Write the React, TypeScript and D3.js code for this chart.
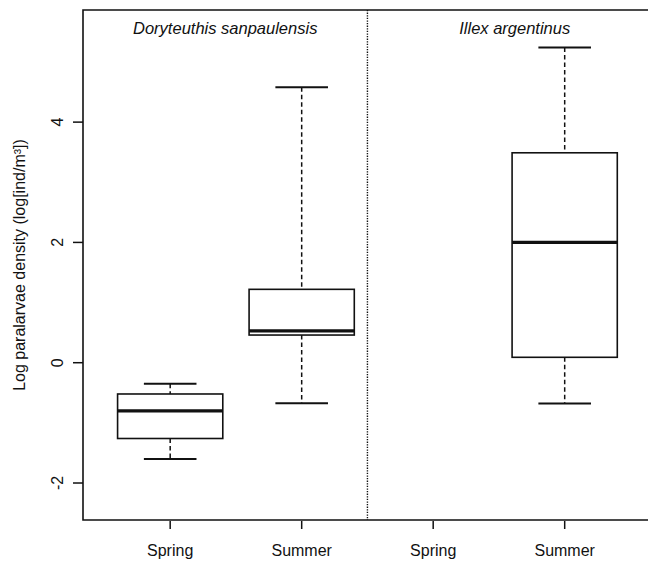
import React from "react";
import * as d3 from "d3";

// ---- data ----
const panels = ["Doryteuthis sanpaulensis", "Illex argentinus"];
const categories = ["Spring", "Summer", "Spring", "Summer"];
const whiskerLow = [-1.6, -0.675, NaN, -0.68];
const q1 = [-1.26, 0.46, NaN, 0.09];
const medians = [-0.8, 0.53, NaN, 2.0];
const q3 = [-0.52, 1.22, NaN, 3.49];
const whiskerHigh = [-0.35, 4.58, NaN, 5.24];
const yTicks = [-2, 0, 2, 4];
const yLabel = "Log paralarvae density (log[ind/m³])";

const W = 648;
const H = 562;
const left = 83;
const right = 662;
const top = 10;
const bottom = 520;

export default function App() {
  const x = d3.scaleLinear().domain([-0.663, 3.74]).range([left, right]);
  const y = d3.scaleLinear().domain([-2.615, 5.864]).range([bottom, top]);
  const step = x(1) - x(0);
  const boxHalf = step * 0.4;
  const capHalf = step * 0.2;
  const divider = x(1.5);
  const panelCenters = [(left + divider) / 2, (divider + right) / 2];
  const font = "'Liberation Sans', Arial, Helvetica, sans-serif";
  const ink = "#111";

  return (
    <svg
      width={W}
      height={H}
      style={{ position: "absolute", left: 0, top: 0, background: "#fff" }}
      fontFamily={font}
    >
      {/* frame */}
      <path
        d={`M${right},${top}H${left}V${bottom}H${right}`}
        fill="none"
        stroke={ink}
        strokeWidth={1.6}
      />
      {/* divider */}
      <line
        x1={divider}
        x2={divider}
        y1={top}
        y2={bottom}
        stroke={ink}
        strokeWidth={1.4}
        strokeDasharray="1.3 1.3"
      />
      {/* panel titles */}
      {panels.map((p, i) => (
        <text
          key={p}
          x={panelCenters[i]}
          y={33.5}
          textAnchor="middle"
          fontSize={16.5}
          fontStyle="italic"
          fill={ink}
        >
          {p}
        </text>
      ))}
      {/* y axis */}
      {yTicks.map((t) => (
        <g key={t}>
          <line x1={left - 10} x2={left} y1={y(t)} y2={y(t)} stroke={ink} strokeWidth={1.5} />
          <text
            transform={`translate(${63},${y(t)}) rotate(-90)`}
            textAnchor="middle"
            fontSize={16}
            fill={ink}
          >
            {t}
          </text>
        </g>
      ))}
      <text
        transform={`translate(${24.5},${(top + bottom) / 2}) rotate(-90)`}
        textAnchor="middle"
        fontSize={16}
        fill={ink}
      >
        {yLabel}
      </text>
      {/* x axis ticks */}
      {categories.map((c, i) => (
        <g key={i}>
          <line x1={x(i)} x2={x(i)} y1={bottom + 1} y2={bottom + 9} stroke={ink} strokeWidth={1.5} />
          <text x={x(i)} y={556} textAnchor="middle" fontSize={16} fill={ink}>
            {c}
          </text>
        </g>
      ))}
      {/* boxes */}
      {categories.map((c, i) => {
        if (isNaN(medians[i])) return null;
        const cx = x(i);
        return (
          <g key={"b" + i}>
            <line x1={cx} x2={cx} y1={y(whiskerHigh[i])} y2={y(q3[i])} stroke={ink} strokeWidth={1.5} strokeDasharray="4.5 3" />
            <line x1={cx} x2={cx} y1={y(q1[i])} y2={y(whiskerLow[i])} stroke={ink} strokeWidth={1.5} strokeDasharray="4.5 3" />
            <line x1={cx - capHalf} x2={cx + capHalf} y1={y(whiskerHigh[i])} y2={y(whiskerHigh[i])} stroke={ink} strokeWidth={2} />
            <line x1={cx - capHalf} x2={cx + capHalf} y1={y(whiskerLow[i])} y2={y(whiskerLow[i])} stroke={ink} strokeWidth={2} />
            <rect
              x={cx - boxHalf}
              y={y(q3[i])}
              width={boxHalf * 2}
              height={y(q1[i]) - y(q3[i])}
              fill="#fff"
              stroke={ink}
              strokeWidth={1.6}
            />
            <line x1={cx - boxHalf} x2={cx + boxHalf} y1={y(medians[i])} y2={y(medians[i])} stroke={ink} strokeWidth={3.2} />
          </g>
        );
      })}
    </svg>
  );
}
